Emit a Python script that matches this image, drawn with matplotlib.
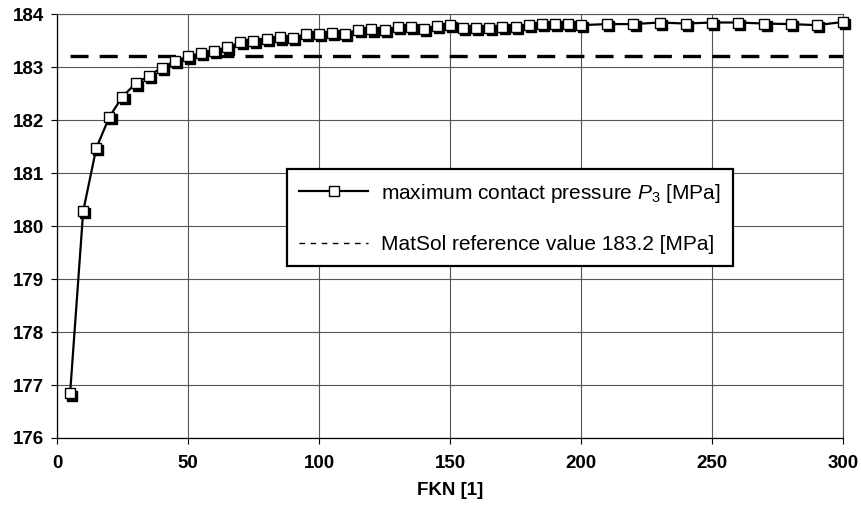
from matplotlib import pyplot as plt
from matplotlib import transforms
from matplotlib.lines import Line2D
import numpy as np

plt.rcParams['font.family'] = ['Liberation Sans', 'DejaVu Sans']
plt.rcParams['mathtext.fontset'] = 'custom'
plt.rcParams['mathtext.rm'] = 'Liberation Sans'
plt.rcParams['mathtext.it'] = 'Liberation Sans:italic'
plt.rcParams['lines.scale_dashes'] = False

# ______DATA______
fkn = [5, 10, 15, 20, 25, 30, 35, 40, 45, 50,
       55, 60, 65, 70, 75, 80, 85, 90, 95, 100,
       105, 110, 115, 120, 125, 130, 135, 140, 145, 150,
       155, 160, 165, 170, 175, 180, 185, 190, 195, 200,
       210, 220, 230, 240, 250, 260, 270, 280, 290, 300]
pressure = [176.84, 180.28, 181.47, 182.06, 182.44, 182.69, 182.83, 182.99, 183.11, 183.20,
            183.26, 183.31, 183.37, 183.47, 183.50, 183.53, 183.56, 183.55, 183.62, 183.62,
            183.65, 183.63, 183.70, 183.71, 183.70, 183.75, 183.75, 183.72, 183.77, 183.79,
            183.74, 183.74, 183.74, 183.76, 183.75, 183.79, 183.81, 183.81, 183.82, 183.79,
            183.81, 183.81, 183.84, 183.82, 183.84, 183.84, 183.82, 183.81, 183.79, 183.85]
refValue = 183.2
refRange = [5, 300]

xTicks = [0, 50, 100, 150, 200, 250, 300]
yTicks = [176, 177, 178, 179, 180, 181, 182, 183, 184]

pressureLabel = "maximum contact pressure $P_{\\mathrm{3}}$ [MPa]"
refLabel = "MatSol reference value 183.2 [MPa]"
xLabel = "FKN [1]"

# ______FIGURE______
fig = plt.figure(figsize=(8.61, 5.08), dpi=100)
ax = fig.add_axes([0.0662, 0.1378, 0.9129, 0.8346])

gridColor = '#555555'
ax.grid(True, color=gridColor, linewidth=0.8, zorder=0)
ax.set_axisbelow(True)

# reference line
ax.plot(refRange, [refValue, refValue], color='black', linewidth=2.4,
        dashes=(13, 8), zorder=2)

# data line + markers with a little drop shadow like excel does
ax.plot(fkn, pressure, color='black', linewidth=1.6, zorder=3)
shadowTrans = transforms.offset_copy(ax.transData, fig=fig, x=2.2, y=-2.2, units='dots')
ax.plot(fkn, pressure, linestyle='none', marker='s', markersize=7.2,
        markerfacecolor='black', markeredgecolor='black', transform=shadowTrans,
        zorder=4, clip_on=False)
ax.plot(fkn, pressure, linestyle='none', marker='s', markersize=7.2,
        markerfacecolor='white', markeredgecolor='black', markeredgewidth=1.0,
        zorder=5, clip_on=False)

ax.set_xlim(0, 300)
ax.set_ylim(176, 184)
ax.set_xticks(xTicks)
ax.set_yticks(yTicks)
ax.tick_params(direction='out', length=4.5, width=0.8, labelsize=13.5)
ax.tick_params(axis='x', pad=8)
ax.tick_params(axis='y', pad=5)
for lbl in ax.get_xticklabels() + ax.get_yticklabels():
    lbl.set_fontweight('bold')
ax.set_xlabel(xLabel, fontsize=13.5, fontweight='bold', labelpad=7)

for side in ['top', 'right']:
    ax.spines[side].set_color(gridColor)
    ax.spines[side].set_linewidth(0.8)
for side in ['left', 'bottom']:
    ax.spines[side].set_color('black')
    ax.spines[side].set_linewidth(0.9)

# ______LEGEND______
handles = [
    Line2D([], [], color='black', linewidth=1.6, marker='s', markersize=7,
           markerfacecolor='white', markeredgecolor='black', markeredgewidth=1.0),
    Line2D([], [], color='black', linewidth=1.0, dashes=(4, 4)),
]
leg = ax.legend(handles, [pressureLabel, refLabel], loc='upper left',
                bbox_to_anchor=(0.2926, 0.634), borderaxespad=0, fontsize=15,
                handlelength=3.3, handletextpad=0.6, labelspacing=1.45,
                borderpad=0.6, fancybox=False, framealpha=1, edgecolor='black')
leg.get_frame().set_linewidth(1.6)
leg.set_zorder(6)

fig.savefig('out.png', dpi=100)
